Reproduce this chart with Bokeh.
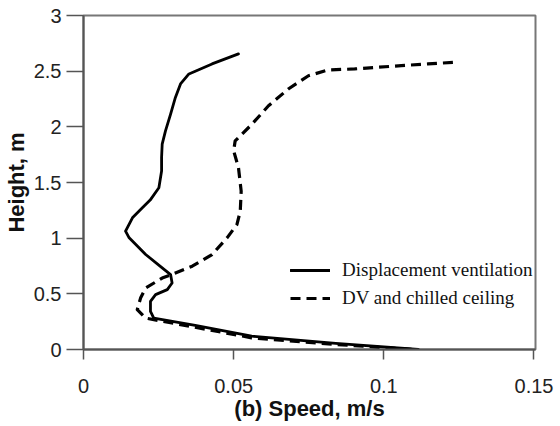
from bokeh.plotting import figure
from bokeh.models import Legend, LegendItem, FixedTicker, Range1d
from bokeh.embed import file_html
from bokeh.resources import INLINE

# Displacement ventilation (solid)
dv_speed = [0.0516, 0.0428, 0.0351, 0.0323, 0.0306, 0.0290, 0.0273, 0.0262, 0.0260,
            0.0260, 0.0251, 0.0222, 0.0196, 0.0163, 0.0140, 0.0152, 0.0207, 0.0262,
            0.0290, 0.0295, 0.0279, 0.0240, 0.0223, 0.0223, 0.0234, 0.0372, 0.0560,
            0.0840, 0.1115]
dv_height = [2.655, 2.565, 2.475, 2.385, 2.264, 2.114, 1.964, 1.844, 1.723,
             1.604, 1.453, 1.342, 1.273, 1.183, 1.063, 1.003, 0.853, 0.733,
             0.673, 0.597, 0.538, 0.493, 0.432, 0.342, 0.282, 0.216, 0.120,
             0.055, 0.0]

# DV and chilled ceiling (dashed)
cc_speed = [0.1230, 0.1147, 0.1058, 0.0981, 0.0903, 0.0815, 0.0749, 0.0682, 0.0616,
            0.0561, 0.0505, 0.0500, 0.0516, 0.0525, 0.0522, 0.0511, 0.0478, 0.0428,
            0.0362, 0.0306, 0.0262, 0.0207, 0.0190, 0.0179, 0.0207, 0.0370, 0.0560,
            0.0840, 0.1100]
cc_height = [2.579, 2.565, 2.550, 2.535, 2.520, 2.511, 2.459, 2.340, 2.189,
             2.024, 1.874, 1.784, 1.633, 1.423, 1.243, 1.123, 1.003, 0.853,
             0.748, 0.687, 0.642, 0.552, 0.462, 0.358, 0.282, 0.200, 0.105,
             0.045, 0.0]

x_ticks = [0, 0.05, 0.1, 0.15]
x_tick_labels = ["0", "0.05", "0.1", "0.15"]
y_ticks = [0, 0.5, 1, 1.5, 2, 2.5, 3]
y_tick_labels = ["0", "0.5", "1", "1.5", "2", "2.5", "3"]

series_names = ["Displacement ventilation", "DV and chilled ceiling"]

p = figure(width=560, height=426, output_backend="svg", toolbar_location=None,
           x_range=Range1d(0, 0.1505), y_range=Range1d(0, 3),
           min_border_left=81, min_border_right=25, min_border_top=15, min_border_bottom=77)

p.xgrid.visible = False
p.ygrid.visible = False
p.outline_line_color = "#777777"
p.outline_line_width = 2
p.background_fill_color = "white"
p.border_fill_color = "white"

r1 = p.line(dv_speed, dv_height, line_color="black", line_width=2.8,
            line_join="round", line_cap="round")
r2 = p.line(cc_speed, cc_height, line_color="black", line_width=3.2, line_dash="10 6",
            line_join="round")

for ax in (p.xaxis[0], p.yaxis[0]):
    ax.axis_line_color = "#555555"
    ax.axis_line_width = 2
    ax.major_tick_line_color = "#555555"
    ax.major_tick_line_width = 1.5
    ax.minor_tick_line_color = None
    ax.major_tick_in = 0
    ax.major_label_text_font = "Liberation Sans"
    ax.major_label_text_font_size = "20px"
    ax.major_label_text_color = "#222222"
    ax.axis_label_text_font = "Liberation Sans"
    ax.axis_label_text_font_style = "bold"
    ax.axis_label_text_font_size = "22px"
    ax.axis_label_text_color = "#111111"

p.xaxis.ticker = FixedTicker(ticks=x_ticks)
p.xaxis.major_label_overrides = dict(zip(x_ticks, x_tick_labels))
p.xaxis.major_tick_out = 10
p.xaxis.major_label_standoff = 19
p.xaxis.axis_label = "(b) Speed, m/s"
p.xaxis.axis_label_standoff = 0

p.yaxis.ticker = FixedTicker(ticks=y_ticks)
p.yaxis.major_label_overrides = dict(zip(y_ticks, y_tick_labels))
p.yaxis.major_tick_out = 17
p.yaxis.major_label_standoff = 5
p.yaxis.axis_label = "Height, m"
p.yaxis.axis_label_standoff = 2

legend = Legend(items=[LegendItem(label=series_names[0], renderers=[r1]),
                       LegendItem(label=series_names[1], renderers=[r2])],
                location=(207, 40), orientation="vertical",
                background_fill_alpha=0, border_line_color=None,
                padding=0, margin=0, spacing=6,
                glyph_width=40, glyph_height=20, label_height=20,
                label_standoff=12,
                label_text_font="Liberation Serif", label_text_font_size="19px",
                label_text_color="#111111")
p.add_layout(legend)

open("out.html", "w").write(file_html(p, INLINE))
